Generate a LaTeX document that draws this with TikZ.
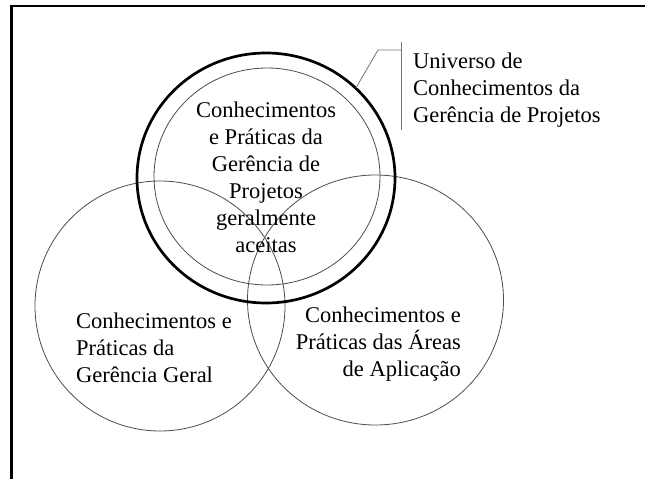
\documentclass[tikz,border=0pt]{standalone}
\usepackage{fontspec}
\setmainfont{Liberation Serif}
\usetikzlibrary{shapes.geometric}

\begin{document}
\begin{tikzpicture}[x=1pt, y=-1pt,
    thinring/.style={draw=black!70, line width=0.8pt, ellipse, inner sep=0pt, outer sep=0pt},
    thickring/.style={draw=black, line width=2.7pt, ellipse, inner sep=0pt, outer sep=0pt},
    txtbox/.style={inner sep=0pt, font=\fontsize{22.5}{27}\selectfont},
    leaderline/.style={draw=black!55, line width=0.8pt}]
    \useasboundingbox (0,0) rectangle (645,479);
    \draw[line width=2.7pt] (11.5,479) -- (11.5,6) -- (645,6);
    \node[thinring, minimum width=250pt, minimum height=250pt] (geral) at (160,306) {};
    \node[thinring, minimum width=256pt, minimum height=250pt] (aplic) at (375.5,300) {};
    \node[thinring, minimum width=226pt, minimum height=217pt] (pratica) at (267,176.5) {};
    \node[thickring, minimum width=258pt, minimum height=250pt] (universo) at (266,178) {};
    \node[txtbox, anchor=north, align=center] (ptxt) at (266,101.6) {Conhecimentos\\e Práticas da\\Gerência de\\Projetos\\geralmente\\aceitas};
    \node[txtbox, anchor=north west, align=left] (utxt) at (413,52.6) {Universo de\\Conhecimentos da\\Gerência de Projetos};
    \node[txtbox, anchor=north west, align=left] (gtxt) at (76,312.6) {Conhecimentos e\\Práticas da\\Gerência Geral};
    \node[txtbox, anchor=north east, align=right] (atxt) at (461,306.6) {Conhecimentos e\\Práticas das Áreas\\de Aplicação};
    \coordinate (bartop) at (401,42);
    \coordinate (barbot) at (401,130);
    \coordinate (elbow) at (378,50);
    \draw[leaderline] (bartop) -- (barbot);
    \draw[leaderline] (universo.45) -- (elbow) -- (elbow -| bartop);
\end{tikzpicture}
\end{document}
